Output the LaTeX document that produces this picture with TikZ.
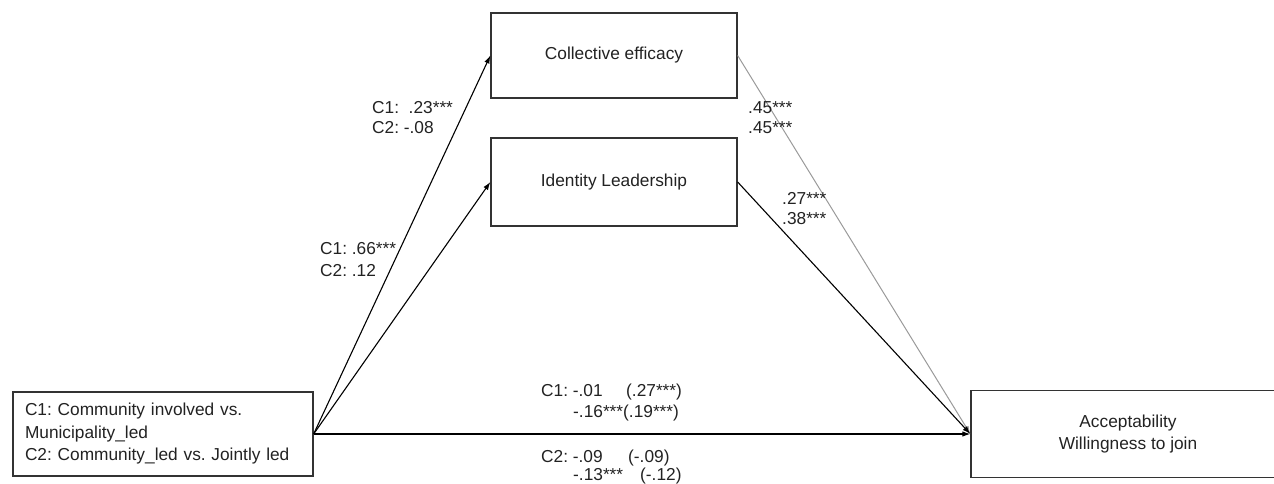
\documentclass[tikz,border=0pt]{standalone}
\usepackage{fontspec}
\setmainfont{Liberation Sans}
\frenchspacing
\usetikzlibrary{arrows.meta,positioning}
\definecolor{boxline}{HTML}{333333}
\definecolor{fadedline}{HTML}{9A9A9A}
\definecolor{txt}{HTML}{222222}
\tikzset{box/.style={
            draw=boxline,
            line width=1.3pt,
            inner sep=0pt,
            text=txt,
            font=\fontsize{17.3}{22.5}\selectfont
        },
        coef/.style={
            anchor=base west,
            inner sep=0pt,
            text=txt,
            font=\fontsize{17.3}{21}\selectfont
        },
        effect/.style={
            -{Latex[length=8pt,width=5.5pt]},
            line width=1.1pt
        }
    }

\begin{document}
\begin{tikzpicture}[x=1pt,y=-1pt]
        \useasboundingbox (0,0) rectangle (1274,484);

        \node[box,minimum width=246pt,minimum height=85pt] at (614,55.5) (efficacy) {Collective efficacy};
        \node[box,minimum width=246pt,minimum height=88pt] at (614,182) (leadership) {Identity Leadership};
        \node[box,minimum height=84pt,text width=276pt,inner xsep=12pt,align=left] at (163,434) (condition) {C1: Community involved vs.\\Municipality\_led\\C2: Community\_led vs. Jointly led};
        \node[box,minimum width=314pt,minimum height=87pt,align=center] at (1128,434) (outcome) {Acceptability\\Willingness to join};

        \draw[effect,fadedline,line width=1pt] (efficacy.east) -- (outcome.west);
        \draw[effect] (condition.east) -- (efficacy.west);
        \draw[effect] (condition.east) -- (leadership.west);
        \draw[effect] (condition.east) -- (outcome.west);
        \draw[effect] (leadership.east) -- (outcome.west);

        % a paths
        \node[coef] at (372,114) (aeffC1) {C1:\ \ .23***};
        \node[coef] at (372,134) (aeffC2) {C2: -.08};
        \node[coef] at (320,254) (aleadC1) {C1: .66***};
        \node[coef] at (320,276) (aleadC2) {C2: .12};

        % b paths
        \node[coef] at (748,114) (beffA) {.45***};
        \node[coef] at (748,134) (beffB) {.45***};
        \node[coef] at (782,204) (bleadA) {.27***};
        \node[coef] at (782,224) (bleadB) {.38***};

        % direct and total
        \node[coef] at (541,396) (cC1a) {C1: -.01};
        \node[coef] at (626,396) (cC1tot) {(.27***)};
        \node[coef] at (573,417) (cC1b) {-.16***(.19***)};
        \node[coef] at (541,462) (cC2a) {C2: -.09};
        \node[coef] at (628,462) (cC2tot) {(-.09)};
        \node[coef] at (573,480) (cC2b) {-.13***};
        \node[coef] at (640,480) (cC2btot) {(-.12)};

    \end{tikzpicture}
\end{document}
